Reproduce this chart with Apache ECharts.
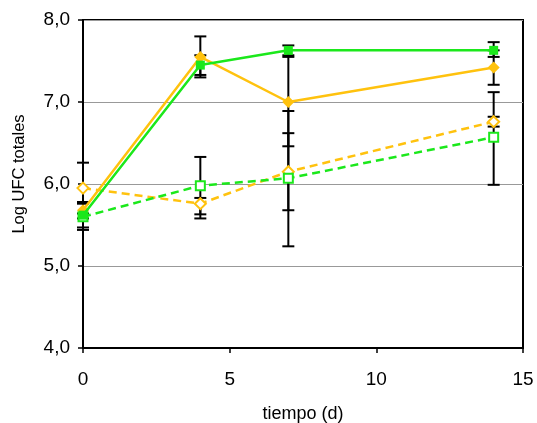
<!DOCTYPE html>
<html><head><meta charset="utf-8">
<script src="https://cdn.jsdelivr.net/npm/echarts@6/dist/echarts.min.js"></script>
<style>html,body{margin:0;padding:0;background:#fff}#c{width:537px;height:423px}</style>
</head><body><div id="c"></div>
<script>
const days = [0, 4, 7, 14];
const yTicks = [4, 5, 6, 7, 8];
// series values
const greenSolid = [5.62, 7.45, 7.63, 7.63];
const yellowSolid = [5.68, 7.55, 7.00, 7.42];
const yellowDashed = [5.95, 5.76, 6.15, 6.76];
const greenDashed = [5.60, 5.98, 6.07, 6.57];
// error bar limits [low, high] per point
const greenSolidErr = [[5.47, 5.78], [7.33, 7.57], [7.57, 7.69], [7.55, 7.73]];
const yellowSolidErr = [[5.58, 5.78], [7.30, 7.80], [6.46, 7.55], [7.21, 7.63]];
const yellowDashedErr = [[5.64, 6.26], [5.58, 5.83], [5.68, 6.62], [6.70, 6.82]];
const greenDashedErr = [[5.44, 5.76], [5.63, 6.33], [5.24, 6.89], [5.99, 7.12]];

const GREEN = '#1be81b', YELLOW = '#ffc20e';
const fmt = v => v.toFixed(1).replace('.', ',');
const pts = arr => days.map((d, i) => [d, arr[i]]);
const errData = [].concat(...[greenSolidErr, yellowSolidErr, yellowDashedErr, greenDashedErr]
  .map(e => days.map((d, i) => [d, e[i][0], e[i][1]])));

const chart = echarts.init(document.getElementById('c'));
chart.setOption({
  animation: false,
  grid: { left: 83, right: 14, top: 20, bottom: 75, show: true, borderColor: '#000', borderWidth: 2,
          containLabel: false, outerBoundsMode: 'none' },
  xAxis: {
    type: 'value', min: 0, max: 15, interval: 5,
    name: 'tiempo (d)', nameLocation: 'middle', nameGap: 57,
    nameTextStyle: { fontFamily: 'Liberation Sans', fontSize: 18, color: '#000' },
    axisLine: { lineStyle: { color: '#000', width: 2 } },
    axisTick: { show: true, length: 5, lineStyle: { color: '#000', width: 1.5 } },
    axisLabel: { fontFamily: 'Liberation Sans', fontSize: 19, color: '#000', margin: 22 },
    splitLine: { show: false }
  },
  yAxis: {
    type: 'value', min: 4, max: 8, interval: 1,
    name: 'Log UFC totales', nameLocation: 'middle', nameGap: 55,
    nameTextStyle: { fontFamily: 'Liberation Sans', fontSize: 16.5, color: '#000', padding: [0, 0, 0, 20] },
    axisLine: { show: true, lineStyle: { color: '#000', width: 2 } },
    axisTick: { show: true, length: 5, lineStyle: { color: '#000', width: 1.5 } },
    axisLabel: { fontFamily: 'Liberation Sans', fontSize: 19, color: '#000', margin: 13, formatter: fmt },
    splitLine: { show: true, lineStyle: { color: '#999', width: 1 } }
  },
  series: [
    {
      type: 'custom', z: 1, data: errData, silent: true,
      renderItem: (params, api) => {
        const top = api.coord([api.value(0), api.value(2)]);
        const bot = api.coord([api.value(0), api.value(1)]);
        const hw = 6;
        const st = { stroke: '#000', lineWidth: 2 };
        return { type: 'group', children: [
          { type: 'line', shape: { x1: top[0], y1: top[1], x2: bot[0], y2: bot[1] }, style: st },
          { type: 'line', shape: { x1: top[0] - hw, y1: top[1], x2: top[0] + hw, y2: top[1] }, style: st },
          { type: 'line', shape: { x1: bot[0] - hw, y1: bot[1], x2: bot[0] + hw, y2: bot[1] }, style: st }
        ]};
      }
    },
    { type: 'line', z: 2, data: pts(yellowDashed), symbol: 'diamond', symbolSize: 11,
      lineStyle: { color: YELLOW, width: 2.5, type: [8, 5] },
      itemStyle: { color: '#fff', borderColor: YELLOW, borderWidth: 2 } },
    { type: 'line', z: 3, data: pts(greenDashed), symbol: 'rect', symbolSize: 9,
      lineStyle: { color: GREEN, width: 2.5, type: [8, 5] },
      itemStyle: { color: '#fff', borderColor: GREEN, borderWidth: 2 } },
    { type: 'line', z: 4, data: pts(yellowSolid), symbol: 'diamond', symbolSize: 12,
      lineStyle: { color: YELLOW, width: 2.5 },
      itemStyle: { color: YELLOW, borderColor: YELLOW, borderWidth: 0 } },
    { type: 'line', z: 5, data: pts(greenSolid), symbol: 'rect', symbolSize: 9,
      lineStyle: { color: GREEN, width: 2.5 },
      itemStyle: { color: GREEN, borderColor: GREEN, borderWidth: 0 } }
  ]
});
</script></body></html>
